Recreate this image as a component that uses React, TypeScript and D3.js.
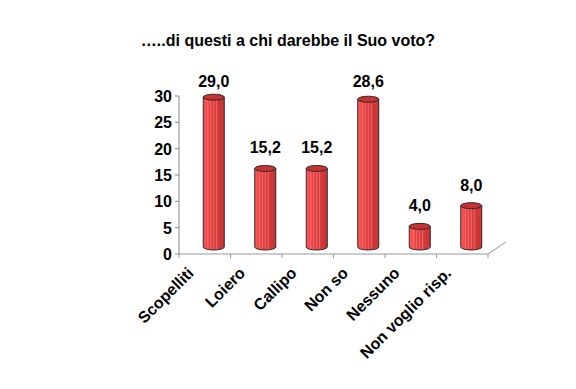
import React from "react";
import * as d3 from "d3";

const title = "…..di questi a chi darebbe il Suo voto?";
const categories = ["Scopelliti", "Loiero", "Callipo", "Non so", "Nessuno", "Non voglio risp."];
const values = [29.0, 15.2, 15.2, 28.6, 4.0, 8.0];
const yTicks = [0, 5, 10, 15, 20, 25, 30];

const W = 576;
const H = 389;

export default function App() {
  const x = d3.scaleBand<string>().domain(categories).range([179, 488]);
  const y = d3.scaleLinear().domain([0, 30]).range([254, 96]);
  // bars sit at mid-depth of the 3D plot: slightly shifted and foreshortened
  const yBar = d3.scaleLinear().domain([0, 30]).range([247, 92]);
  const dx = 9;
  const bw = 21;
  const ry = 3;
  const font = "Liberation Sans, Arial, Helvetica, sans-serif";
  const fmt = (v: number) => v.toFixed(1).replace(".", ",");
  const boundaries = d3.range(categories.length + 1).map((i) => 179 + i * x.bandwidth());

  return (
    <svg width={W} height={H} style={{ position: "absolute", left: 0, top: 0, background: "#fff" }}>
      <defs>
        <linearGradient id="cyl" x1="0" x2="1" y1="0" y2="0">
          <stop offset="0" stopColor="#ff5c5c" />
          <stop offset="0.2" stopColor="#f04646" />
          <stop offset="0.45" stopColor="#dc3c3c" />
          <stop offset="1" stopColor="#c83434" />
        </linearGradient>
      </defs>
      <rect x={0} y={0} width={W} height={H} fill="#fff" />
      <text x={288} y={46} textAnchor="middle" fontFamily={font} fontWeight="bold" fontSize={16} fill="#000">
        {title}
      </text>

      {/* axes */}
      <line x1={179} x2={179} y1={y(30)} y2={y(0)} stroke="#888" strokeWidth={1} />
      {yTicks.map((t) => (
        <g key={t}>
          <line x1={175} x2={179} y1={y(t)} y2={y(t)} stroke="#888" />
          <text x={172} y={y(t) + 6} textAnchor="end" fontFamily={font} fontWeight="bold" fontSize={16} fill="#000">
            {t}
          </text>
        </g>
      ))}
      <line x1={179} x2={488} y1={y(0)} y2={y(0)} stroke="#999" />
      <line x1={488} x2={506} y1={y(0)} y2={y(0) - 12} stroke="#999" />
      {boundaries.map((b, i) => (
        <line key={i} x1={b} x2={b} y1={y(0)} y2={y(0) + 4} stroke="#999" />
      ))}

      {/* bars */}
      {categories.map((c, i) => {
        const cx = (x(c) as number) + x.bandwidth() / 2 + dx;
        const yt = yBar(values[i]);
        const yb = yBar(0);
        const left = cx - bw / 2;
        const right = cx + bw / 2;
        const body = `M${left},${yt} L${left},${yb} A${bw / 2},${ry} 0 0 0 ${right},${yb} L${right},${yt} Z`;
        const stripes = [0.22, 0.36, 0.5, 0.64];
        const labelY = Math.max(yt - 15, 87);
        return (
          <g key={c}>
            <path d={body} fill="url(#cyl)" stroke="none" />
            {stripes.map((s, k) => (
              <line
                key={k}
                x1={left + s * bw}
                x2={left + s * bw}
                y1={yt + 2}
                y2={yb + 2}
                stroke="#ff8a8a"
                strokeWidth={0.8}
                opacity={0.8}
              />
            ))}
            <path d={body} fill="none" stroke="#2a2a2a" strokeWidth={1} />
            <ellipse cx={cx} cy={yt} rx={bw / 2} ry={ry} fill="#c83232" stroke="#2a2a2a" strokeWidth={1} />
            <text x={cx} y={labelY} textAnchor="middle" fontFamily={font} fontWeight="bold" fontSize={16} fill="#000">
              {fmt(values[i])}
            </text>
          </g>
        );
      })}

      {/* category labels */}
      {categories.map((c) => {
        const ax = (x(c) as number) + x.bandwidth() / 2 - 10;
        const ay = 274;
        return (
          <text
            key={c}
            x={ax}
            y={ay}
            textAnchor="end"
            transform={`rotate(-45 ${ax} ${ay})`}
            fontFamily={font}
            fontWeight="bold"
            fontSize={16}
            fill="#000"
          >
            {c}
          </text>
        );
      })}
    </svg>
  );
}
